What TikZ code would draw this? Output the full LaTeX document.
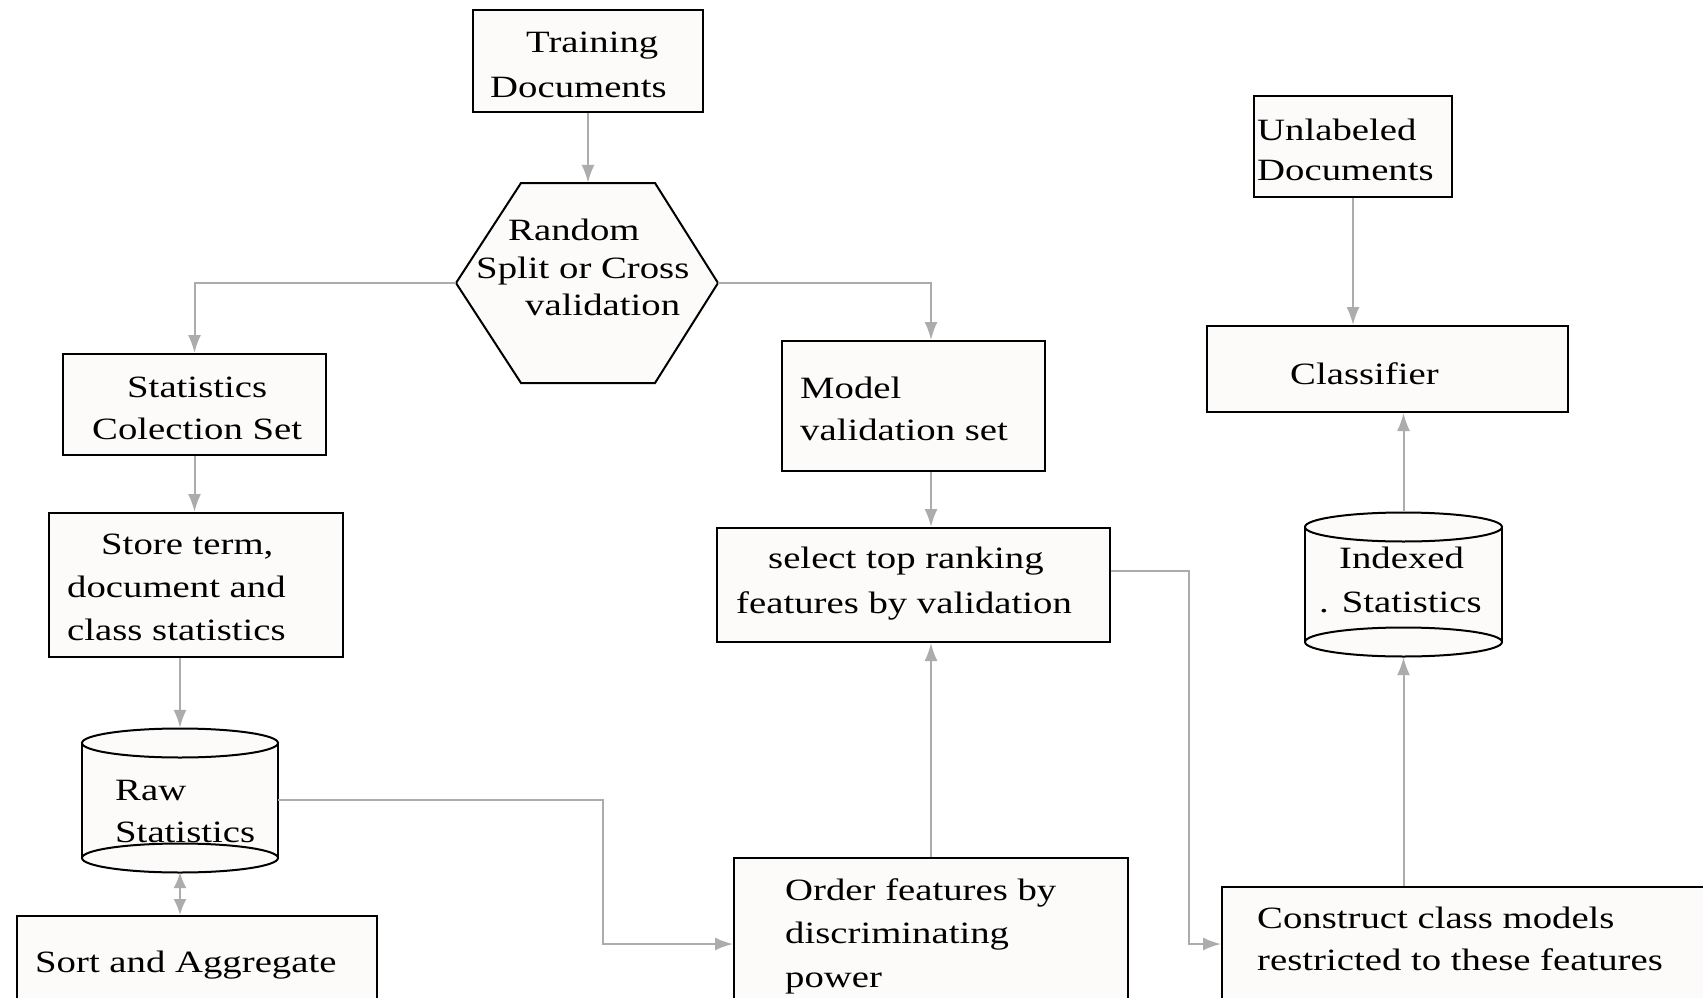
\documentclass[tikz,border=0pt]{standalone}
\usepackage{fontspec}
\setmainfont{Liberation Serif}[FakeStretch=1.25]
\usetikzlibrary{arrows.meta}
\definecolor{linegray}{RGB}{172,172,172}
\definecolor{boxfill}{RGB}{253,250,250}
\begin{document}
\begin{tikzpicture}[x=1pt,y=-1pt,
  box/.style={draw=black, line width=2pt, fill=boxfill, inner sep=0pt},
  shapeline/.style={draw=black, line width=2pt, fill=boxfill},
  anchorbox/.style={inner sep=0pt},
  txt/.style={anchor=base west, inner sep=0pt, font=\fontsize{31}{40}\selectfont},
  conn/.style={draw=linegray, line width=2pt},
  arr/.style={conn, -{Latex[length=18pt,width=13pt]}},
  dblarr/.style={conn, {Latex[length=16pt,width=13pt]}-{Latex[length=16pt,width=13pt]}}]
\useasboundingbox (0,0) rectangle (1703,998);
\clip (0,0) rectangle (1703,998);
\fill[white] (0,0) rectangle (1703,998);

% ---------- boxes ----------
\node[box, minimum width=230pt, minimum height=102pt] (train) at (588,61) {};
\node[box, minimum width=263pt, minimum height=101pt] (stats) at (194.5,404.5) {};
\node[box, minimum width=263pt, minimum height=130pt] (model) at (913.5,406) {};
\node[box, minimum width=198pt, minimum height=101pt] (unl) at (1353,146.5) {};
\node[box, minimum width=361pt, minimum height=86pt] (cls) at (1387.5,369) {};
\node[box, minimum width=294pt, minimum height=144pt] (store) at (196,585) {};
\node[box, minimum width=393pt, minimum height=114pt] (sel) at (913.5,585) {};
\node[box, minimum width=360pt, minimum height=124pt] (sort) at (197,978) {};
\node[box, minimum width=394pt, minimum height=172pt] (order) at (931,944) {};
\node[box, minimum width=498pt, minimum height=114pt] (cons) at (1471,944) {};

% ---------- hexagon ----------
\node[anchorbox, minimum width=262pt, minimum height=200pt] (hex) at (587,283) {};
\draw[shapeline] (521,183) -- (655,183) -- (718,283) -- (655,383) -- (521,383) -- (456,283) -- cycle;

% ---------- cylinders ----------
\node[anchorbox, minimum width=196pt, minimum height=144pt] (raw) at (180,800) {};
\fill[boxfill] (82,743) rectangle (278,858);
\draw[black, line width=2pt] (82,743) -- (82,858) (278,743) -- (278,858);
\draw[shapeline] (180,858) ellipse [x radius=98, y radius=14.5];
\draw[shapeline] (180,743) ellipse [x radius=98, y radius=14.5];

\node[anchorbox, minimum width=197pt, minimum height=145pt] (idx) at (1403.5,584.5) {};
\fill[boxfill] (1305,527) rectangle (1502,642);
\draw[black, line width=2pt] (1305,527) -- (1305,642) (1502,527) -- (1502,642);
\draw[shapeline] (1403.5,642) ellipse [x radius=98.5, y radius=14.5];
\draw[shapeline] (1403.5,527) ellipse [x radius=98.5, y radius=14.5];

% ---------- texts ----------
\node[txt] (trainA) at (526,53) {Training};
\node[txt] (trainB) at (490,97) {Documents};
\node[txt] (hexA) at (508,240) {Random};
\node[txt] (hexB) at (476,278) {Split or Cross};
\node[txt] (hexC) at (525,315) {validation};
\node[txt] (statsA) at (127,397) {Statistics};
\node[txt] (statsB) at (92,439) {Colection Set};
\node[txt] (modelA) at (800,398) {Model};
\node[txt] (modelB) at (800,440) {validation set};
\node[txt] (unlA) at (1257,140) {Unlabeled};
\node[txt] (unlB) at (1257,180) {Documents};
\node[txt] (clsA) at (1290,384) {Classifier};
\node[txt] (storeA) at (101,554) {Store term,};
\node[txt] (storeB) at (67,597) {document and};
\node[txt] (storeC) at (67,640) {class statistics};
\node[txt] (selA) at (768,568) {select top ranking};
\node[txt] (selB) at (736,613) {features by validation};
\node[txt] (idxA) at (1339,568) {Indexed};
\node[txt] (idxB) at (1319,612) {. Statistics};
\node[txt] (rawA) at (115,800) {Raw};
\node[txt] (rawB) at (115,842) {Statistics};
\node[txt] (sortA) at (35,972) {Sort and Aggregate};
\node[txt] (orderA) at (785,900) {Order features by};
\node[txt] (orderB) at (785,943) {discriminating};
\node[txt] (orderC) at (785,987) {power};
\node[txt] (consA) at (1257,928) {Construct class models};
\node[txt] (consB) at (1257,970) {restricted to these features};

% ---------- connectors ----------
\draw[arr] (train.south) -- (train.south |- hex.north);
\draw[arr] (hex.west) -| (stats.north);
\draw[arr] (hex.east) -| ([xshift=17.5pt]model.north);
\draw[arr] (stats.south) -- (stats.south |- store.north);
\draw[arr] (raw.north |- store.south) -- (raw.north);
\draw[dblarr] (raw.south) -- (raw.south |- sort.north);
\draw[arr] ([xshift=17.5pt]model.south) -- ([xshift=17.5pt]sel.north);
\draw[arr] (order.north) -- (order.north |- sel.south);
\draw[arr] (raw.east) -| ([xshift=-130pt]order.west) -- (order.west);
\draw[arr] ([yshift=14pt]sel.east) -| ([xshift=-32pt]cons.west) -- (cons.west);
\draw[arr] (idx.south |- cons.north) -- (idx.south);
\draw[arr] (idx.north) -- (idx.north |- cls.south);
\draw[arr] (unl.south) -- (unl.south |- cls.north);
\end{tikzpicture}
\end{document}
